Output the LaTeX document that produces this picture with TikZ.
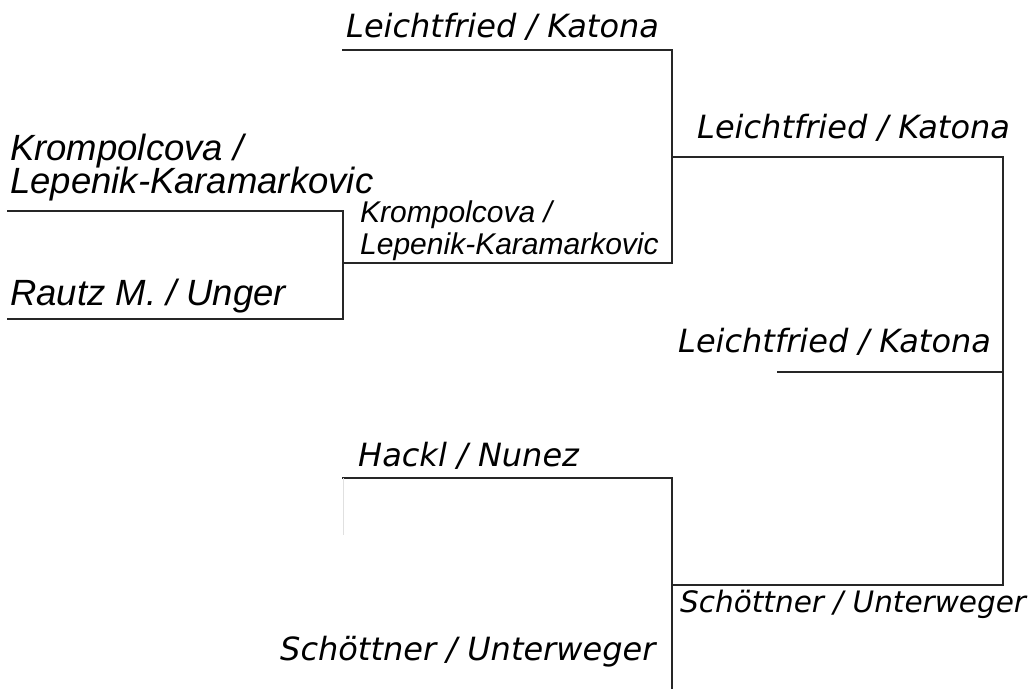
\documentclass[tikz,border=0pt]{standalone}
\usepackage{fontspec}
\setmainfont{DejaVu Sans}
\newfontfamily\arialf{Liberation Sans}
\begin{document}
\begin{tikzpicture}[x=1pt,y=-1pt,
  bline/.style={draw=black!85,line width=2.9pt,line cap=rect,line join=miter},
  vlab/.style={anchor=base west,inner sep=0pt,font=\itshape\fontsize{32}{38}\selectfont},
  vsmall/.style={anchor=base west,inner sep=0pt,font=\itshape\fontsize{29.5}{34}\selectfont},
  alab/.style={anchor=base west,inner sep=0pt,align=left,font=\arialf\itshape\fontsize{36.5}{33}\selectfont},
  asmall/.style={anchor=base west,inner sep=0pt,align=left,font=\arialf\itshape\fontsize{30}{32}\selectfont}]
\useasboundingbox (0,0) rectangle (1032,688);
% coordinates of bracket lines
\coordinate (a1) at (8,211);
\coordinate (a2) at (343,211);
\coordinate (b1) at (8,319);
\coordinate (b2) at (343,319);
\coordinate (c1) at (343,263);
\coordinate (c2) at (672,263);
\coordinate (d1) at (343,50);
\coordinate (d2) at (672,50);
\coordinate (e1) at (672,157);
\coordinate (e2) at (1003,157);
\coordinate (f1) at (778,372);
\coordinate (f2) at (1003,372);
\coordinate (g1) at (672,585);
\coordinate (g2) at (1003,585);
\coordinate (h1) at (343,478);
\coordinate (h2) at (672,478);
\coordinate (h3) at (672,690);
\coordinate (h4) at (343,535);
% lines
\draw[bline] (a1) -- (a2) -- (b2) -- (b1);
\draw[bline] (c1) -- (c2) -- (d2) -- (d1);
\draw[bline] (e1) -- (e2) -- (g2) -- (g1);
\draw[bline] (f1) -- (f2);
\draw[bline] (h1) -- (h2) -- (h3);
\draw[black!12,line width=1pt] (h1) -- (h4);
% labels
\node[vlab] (t1) at (346,37) {Leichtfried / Katona};
\node[vlab] (t2) at (697,138) {Leichtfried / Katona};
\node[alab] (t3) at (10,160) {Krompolcova /};
\node[alab] (t3b) at (10,193) {Lepenik-Karamarkovic};
\node[asmall] (t4) at (360,222) {Krompolcova /};
\node[asmall] (t4b) at (360,254) {Lepenik-Karamarkovic};
\node[alab] (t5) at (10,305) {Rautz M. / Unger};
\node[vlab] (t6) at (678,352) {Leichtfried / Katona};
\node[vlab] (t7) at (358,466) {Hackl / Nunez};
\node[vsmall] (t8) at (680,612) {Schöttner / Unterweger};
\node[vlab] (t9) at (280,660) {Schöttner / Unterweger};
\end{tikzpicture}
\end{document}
